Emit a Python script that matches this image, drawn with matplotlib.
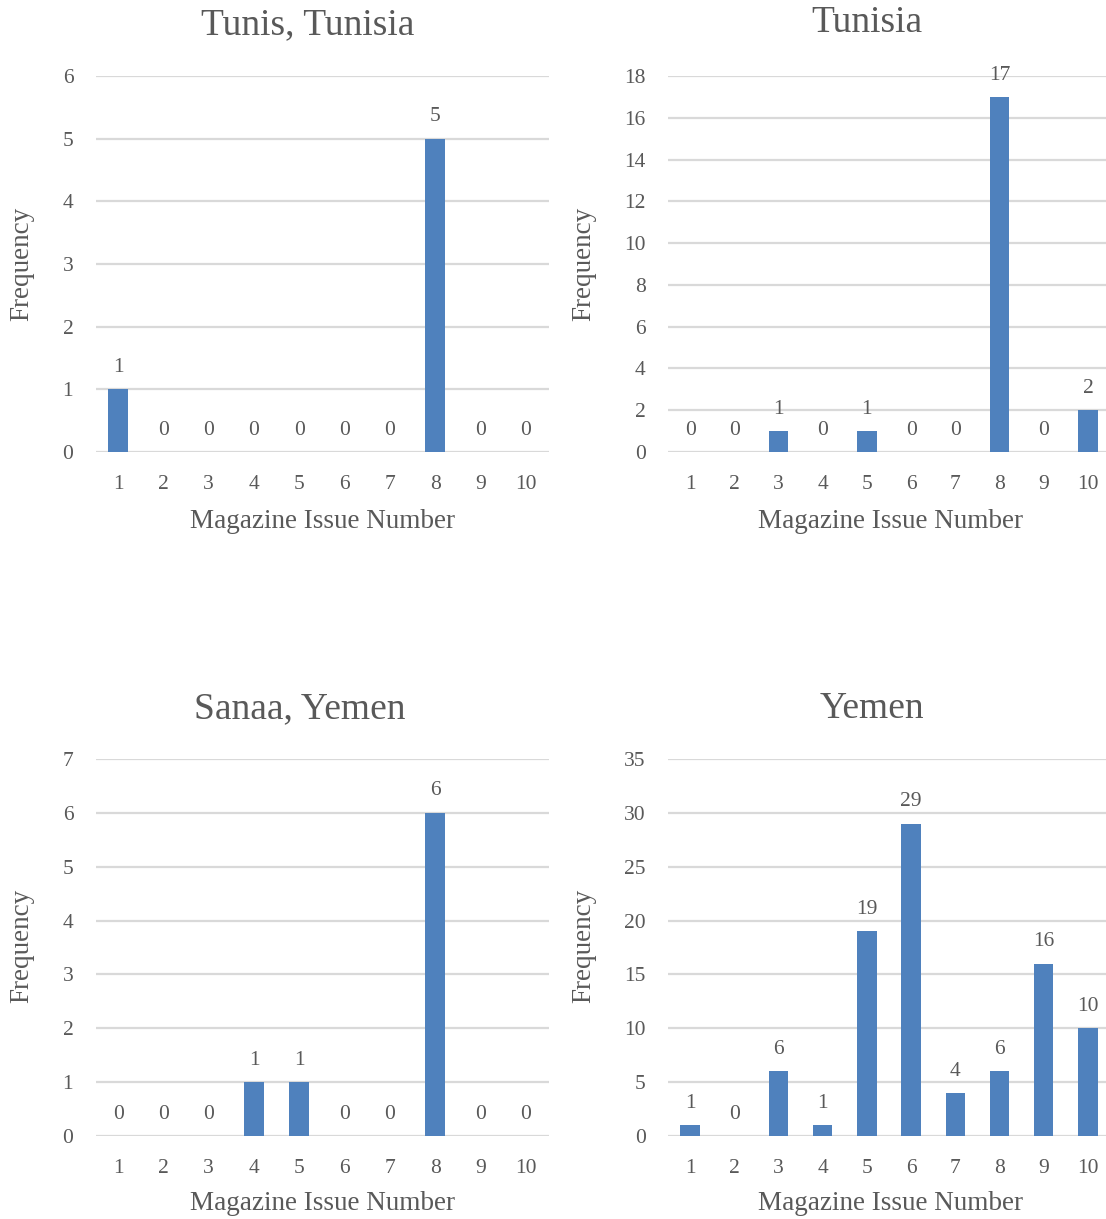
import numpy as np
import matplotlib
matplotlib.use("Agg")
import matplotlib.pyplot as plt

plt.rcParams['font.family'] = ['Liberation Serif', 'DejaVu Serif']

issues = [1, 2, 3, 4, 5, 6, 7, 8, 9, 10]
tunis = [1, 0, 0, 0, 0, 0, 0, 5, 0, 0]
tunisia = [0, 0, 1, 0, 1, 0, 0, 17, 0, 2]
sanaa = [0, 0, 0, 1, 1, 0, 0, 6, 0, 0]
yemen = [1, 0, 6, 1, 19, 29, 4, 6, 16, 10]

titles = ["Tunis, Tunisia", "Tunisia", "Sanaa, Yemen", "Yemen"]
ymaxes = [6, 18, 7, 35]
ysteps = [1, 2, 1, 5]

bar_color = "#4F81BD"
text_color = "#595959"
grid_color = "#D9D9D9"

W, H = 1106, 1219
fig = plt.figure(figsize=(W / 100, H / 100), dpi=100)

# axes boxes in pixels: left, top(y of max), right, bottom(y of zero)
boxes = [(95.5, 76, 548.5, 452), (668, 76, 1110, 452),
         (95.5, 759, 548.5, 1136), (668, 759, 1110, 1136)]
title_pos = [(308, 25), (867, 23), (300, 709), (872, 709)]
xlabel_pos = [(322, 521), (890, 521), (322, 1204), (890, 1204)]
ylabel_pos = [(22, 264), (584, 264), (22, 946), (584, 946)]

series = [tunis, tunisia, sanaa, yemen]

for i in range(4):
    l, t, r, b = boxes[i]
    ax = fig.add_axes([l / W, 1 - b / H, (r - l) / W, (b - t) / H])
    vals = series[i]
    ax.bar(issues, vals, width=0.44, color=bar_color, zorder=3)
    ax.set_xlim(0.5, 10.5)
    ax.set_ylim(0, ymaxes[i])
    ax.set_yticks(np.arange(0, ymaxes[i] + 1, ysteps[i]))
    ax.set_xticks(issues)
    ax.yaxis.grid(True, color=grid_color, linewidth=1.6, zorder=0)
    ax.set_axisbelow(True)
    for s in ax.spines.values():
        s.set_visible(False)
    ax.tick_params(axis='both', length=0, labelsize=15.5, colors=text_color)
    ax.tick_params(axis='y', pad=16)
    ax.tick_params(axis='x', pad=16.5)
    for x, v in zip(issues, vals):
        ax.annotate(str(v), (x, v), xytext=(0, 12.5), textcoords='offset points',
                    ha='center', va='baseline', fontsize=15.5, color=text_color)

    tx, ty = title_pos[i]
    fig.text(tx / W, 1 - ty / H, titles[i], ha='center', va='center',
             fontsize=27, color=text_color)
    lx, ly = xlabel_pos[i]
    fig.text(lx / W, 1 - ly / H, "Magazine Issue Number", ha='center', va='center',
             fontsize=19.5, color=text_color)
    yx, yy = ylabel_pos[i]
    fig.text(yx / W, 1 - yy / H, "Frequency", ha='center', va='center',
             rotation=90, fontsize=19.5, color=text_color)

fig.savefig("out.png", dpi=100, facecolor='white')
